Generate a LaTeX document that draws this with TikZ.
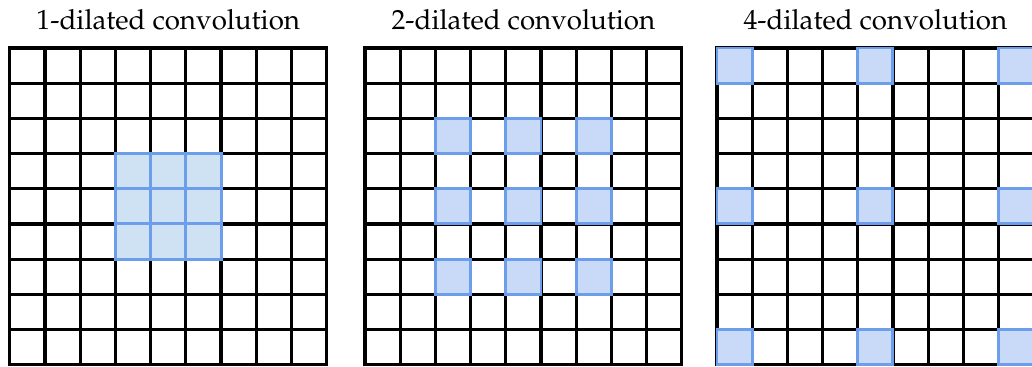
\documentclass[tikz,border=0pt]{standalone}
\usepackage[T1]{fontenc}
\usepackage{mathpazo}
\usepackage{xcolor}
\definecolor{cellblue}{HTML}{6D9EEB}
\definecolor{cellfillA}{HTML}{CFE2F3}
\definecolor{cellfillB}{HTML}{C9DAF8}

\begin{document}
\begin{tikzpicture}[
  gridline/.style={draw=black, line width=2.6pt, line cap=rect},
  hot/.style={draw=cellblue, fill=#1, line width=2.4pt},
  title/.style={anchor=base, inner sep=0pt, font=\fontsize{22.4}{27}\selectfont}
]
\useasboundingbox (0,0) rectangle (29.32,10.426);
\foreach \g/\xo/\d/\c in {1/0.28/1/cellfillA, 2/10.37/2/cellfillB, 3/20.37/4/cellfillB} {
  \node[title] (t\g) at ({\xo+4.5},9.574) {\d-dilated convolution};
  \foreach \i in {0,...,9} {
    \draw[gridline] ({\xo+\i},0.0625) -- ++(0,9);
    \draw[gridline] (\xo,{0.0625+\i}) -- ++(9,0);
  }
  \foreach \k in {-1,0,1}
    \foreach \m in {-1,0,1}
      \draw[hot=\c] ({\xo+4+\d*\k},{4.0625+\d*\m}) rectangle ++(1,1);
}
\end{tikzpicture}
\end{document}
